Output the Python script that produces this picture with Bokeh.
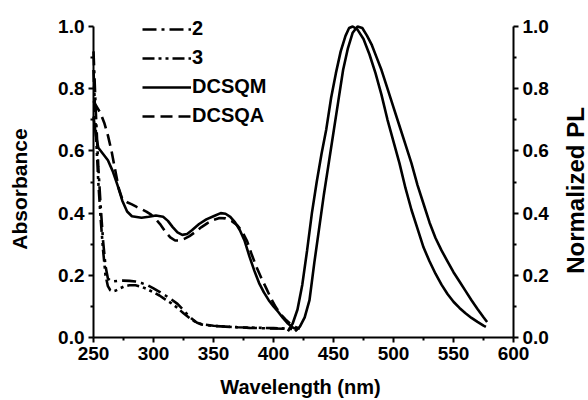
import math
from bokeh.plotting import figure
from bokeh.models import (Range1d, LinearAxis, FixedTicker, Legend, LegendItem,
                          NumeralTickFormatter, Label)
from bokeh.embed import file_html
from bokeh.resources import INLINE

# ---------------- data ----------------
x_ticks = [250, 300, 350, 400, 450, 500, 550, 600]
x_minor = [275, 325, 375, 425, 475, 525, 575]
y_ticks = [0.0, 0.2, 0.4, 0.6, 0.8, 1.0]
y_minor = [0.1, 0.3, 0.5, 0.7, 0.9]

# absorbance, compound 2
wl_2 = [250, 252, 254, 256, 258, 260, 262, 265, 270, 275, 280, 285, 290, 295, 300, 305,
        310, 315, 320, 324, 328, 332, 336, 340, 350, 360, 370, 380, 390, 400, 410, 420]
abs_2 = [0.92, 0.72, 0.55, 0.42, 0.31, 0.23, 0.19, 0.18, 0.182, 0.183, 0.182, 0.18, 0.175,
         0.168, 0.158, 0.147, 0.135, 0.122, 0.108, 0.092, 0.075, 0.06, 0.048, 0.042, 0.037,
         0.035, 0.033, 0.031, 0.03, 0.029, 0.028, 0.027]

# absorbance, compound 3
wl_3 = [250, 252, 254, 256, 258, 260, 262, 264, 266, 268, 272, 276, 280, 285, 290, 295, 300,
        305, 310, 315, 320, 325, 330, 335, 340, 350, 360, 370, 380, 390, 400, 410, 418]
abs_3 = [0.86, 0.66, 0.5, 0.38, 0.28, 0.2, 0.165, 0.152, 0.148, 0.15, 0.158, 0.165, 0.168,
         0.168, 0.163, 0.155, 0.145, 0.135, 0.122, 0.11, 0.095, 0.078, 0.063, 0.05, 0.043,
         0.038, 0.035, 0.033, 0.032, 0.031, 0.03, 0.029, 0.028]

# absorbance, DCSQM
wl_m = [250, 252, 254, 258, 262, 266, 270, 274, 278, 282, 290, 296, 302, 308, 312, 316, 320,
        324, 328, 332, 338, 344, 350, 356, 360, 364, 368, 372, 376, 380, 384, 388, 392, 396,
        400, 404, 408, 412, 416, 420]
abs_m = [0.71, 0.65, 0.61, 0.59, 0.57, 0.535, 0.49, 0.44, 0.405, 0.39, 0.385, 0.388, 0.392,
         0.388, 0.375, 0.355, 0.338, 0.33, 0.333, 0.345, 0.365, 0.38, 0.39, 0.4, 0.398, 0.388,
         0.37, 0.345, 0.31, 0.26, 0.215, 0.175, 0.145, 0.12, 0.1, 0.082, 0.062, 0.045, 0.032,
         0.026]

# absorbance, DCSQA
wl_a = [250, 253, 256, 259, 262, 265, 268, 271, 274, 278, 282, 286, 290, 294, 298, 302, 306,
        310, 314, 318, 322, 326, 330, 335, 340, 345, 350, 355, 360, 365, 370, 374, 378, 382,
        386, 390, 394, 398, 402, 406, 410, 414, 418, 422]
abs_a = [0.76, 0.74, 0.72, 0.69, 0.65, 0.6, 0.54, 0.48, 0.445, 0.435, 0.428, 0.42, 0.413,
         0.405, 0.395, 0.38, 0.362, 0.34, 0.322, 0.312, 0.312, 0.318, 0.326, 0.34, 0.355,
         0.368, 0.378, 0.384, 0.383, 0.375, 0.36, 0.34, 0.31, 0.265, 0.225, 0.19, 0.158,
         0.125, 0.097, 0.075, 0.058, 0.044, 0.034, 0.028]

# normalized PL, first emission band
pl1_x = [412, 416, 420, 424, 428, 432, 436, 440, 444, 448, 452, 456, 460, 463, 466, 470, 475,
         480, 485, 490, 495, 500, 505, 510, 515, 520, 525, 530, 535, 540, 545, 550, 555, 560,
         565, 570, 575, 577]
pl1_y = [0.02, 0.045, 0.09, 0.17, 0.28, 0.40, 0.50, 0.59, 0.67, 0.77, 0.85, 0.92, 0.97, 0.995,
         1.0, 0.99, 0.96, 0.91, 0.85, 0.78, 0.70, 0.63, 0.56, 0.48, 0.41, 0.35, 0.29, 0.245,
         0.205, 0.17, 0.14, 0.115, 0.095, 0.078, 0.063, 0.05, 0.038, 0.034]

# normalized PL, second emission band
pl2_x = [418, 422, 426, 430, 434, 438, 442, 446, 450, 454, 458, 462, 466, 470, 474, 478, 482,
         486, 490, 495, 500, 505, 510, 515, 520, 525, 530, 535, 540, 545, 550, 555, 560, 565,
         570, 575, 578]
pl2_y = [0.02, 0.035, 0.065, 0.12, 0.24, 0.35, 0.46, 0.56, 0.66, 0.76, 0.86, 0.93, 0.98, 1.0,
         0.995, 0.97, 0.94, 0.90, 0.86, 0.80, 0.74, 0.68, 0.62, 0.56, 0.49, 0.43, 0.37, 0.32,
         0.28, 0.245, 0.21, 0.18, 0.15, 0.12, 0.092, 0.065, 0.05]

legend_labels = ["2", "3", "DCSQM", "DCSQA"]
x_title = "Wavelength (nm)"
y_title = "Absorbance"
y2_title = "Normalized PL"

FONT = "Liberation Sans"

# ---------------- figure ----------------
# The plotting frame fills the whole 588x400 canvas (1.2 px per nm, 311 px per unit
# of y); the axes are pinned with fixed_location at x=250, x=600 and y=0 so that the
# titles can be placed as labels next to them without being clipped.
W, H = 588, 400
X_MIN, X_MAX = 250, 600
PX_PER_NM = 1.2
PX_PER_Y = 311
LEFT, TOP, BOTTOM = 93, 26, 63
x_start = X_MIN - LEFT / PX_PER_NM
x_end = x_start + W / PX_PER_NM
y_start = -BOTTOM / PX_PER_Y
y_end = y_start + H / PX_PER_Y

p = figure(width=W, height=H, output_backend="svg", toolbar_location=None,
           x_range=Range1d(x_start, x_end), y_range=Range1d(y_start, y_end),
           min_border=0, min_border_left=0, min_border_right=0,
           min_border_top=0, min_border_bottom=0,
           x_axis_location=None, y_axis_location=None)
p.extra_y_ranges = {"pl": Range1d(y_start, y_end)}
p.outline_line_color = None
p.xgrid.visible = False
p.ygrid.visible = False
p.background_fill_color = "white"
p.border_fill_color = "white"


def style_axis(ax):
    ax.axis_label = None
    ax.major_label_text_font = FONT
    ax.major_label_text_font_style = "bold"
    ax.major_label_text_font_size = "19px"
    ax.major_label_text_color = "black"
    ax.major_label_standoff = 4
    ax.axis_line_width = 2
    ax.axis_line_color = "black"
    ax.major_tick_line_width = 2
    ax.minor_tick_line_width = 2
    ax.major_tick_line_color = "black"
    ax.minor_tick_line_color = "black"
    ax.major_tick_in = 0
    ax.major_tick_out = 5
    ax.minor_tick_in = 0
    ax.minor_tick_out = 3


xaxis = LinearAxis(ticker=FixedTicker(ticks=x_ticks, minor_ticks=x_minor),
                   bounds=(X_MIN, X_MAX), fixed_location=0)
style_axis(xaxis)
p.add_layout(xaxis, "below")

yaxis = LinearAxis(ticker=FixedTicker(ticks=y_ticks, minor_ticks=y_minor),
                   formatter=NumeralTickFormatter(format="0.0"), bounds=(0, 1.0),
                   fixed_location=X_MIN)
style_axis(yaxis)
p.add_layout(yaxis, "left")

raxis = LinearAxis(y_range_name="pl", ticker=FixedTicker(ticks=y_ticks, minor_ticks=y_minor),
                   formatter=NumeralTickFormatter(format="0.0"), bounds=(0, 1.0),
                   fixed_location=X_MAX)
style_axis(raxis)
p.add_layout(raxis, "right")

# axis titles (screen units measured from the canvas' bottom-left corner)
p.add_layout(Label(x=300, y=H - 386, x_units="screen", y_units="screen", text=x_title,
                   text_align="center", text_baseline="middle",
                   text_font=FONT, text_font_style="bold", text_font_size="20px",
                   text_color="black"))
p.add_layout(Label(x=18.5, y=H - 188.5, x_units="screen", y_units="screen", text=y_title,
                   angle=math.pi / 2, text_align="center", text_baseline="middle",
                   text_font=FONT, text_font_style="bold", text_font_size="21px",
                   text_color="black"))
p.add_layout(Label(x=575, y=H - 190, x_units="screen", y_units="screen", text=y2_title,
                   angle=math.pi / 2, text_align="center", text_baseline="middle",
                   text_font=FONT, text_font_style="bold", text_font_size="24px",
                   text_color="black"))

LW = 2.6
r2 = p.line(wl_2, abs_2, line_color="black", line_width=LW, line_dash="14 5 3 5")
r3 = p.line(wl_3, abs_3, line_color="black", line_width=LW, line_dash="12 4 3 4 3 4")
rm = p.line(wl_m, abs_m, line_color="black", line_width=LW)
ra = p.line(wl_a, abs_a, line_color="black", line_width=LW, line_dash="12 6")
p.line(pl1_x, pl1_y, line_color="black", line_width=LW, y_range_name="pl")
p.line(pl2_x, pl2_y, line_color="black", line_width=LW, y_range_name="pl")

legend = Legend(items=[LegendItem(label=legend_labels[0], renderers=[r2]),
                       LegendItem(label=legend_labels[1], renderers=[r3]),
                       LegendItem(label=legend_labels[2], renderers=[rm]),
                       LegendItem(label=legend_labels[3], renderers=[ra])],
                location=(49 + LEFT, 210 + BOTTOM), orientation="vertical",
                glyph_width=49, glyph_height=20, label_height=20, spacing=6,
                label_standoff=1, padding=0, margin=0,
                label_text_font=FONT, label_text_font_style="bold",
                label_text_font_size="20px", label_text_color="black",
                background_fill_alpha=0, border_line_color=None)
p.add_layout(legend, "center")

open("out.html", "w").write(file_html(p, INLINE))
